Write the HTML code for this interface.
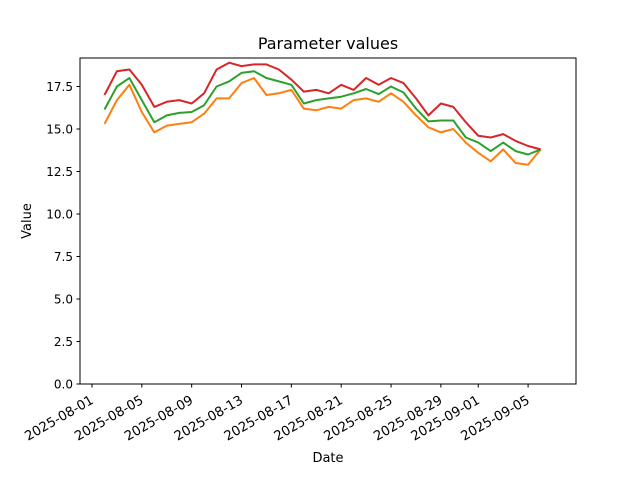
<!DOCTYPE html>
<html><head><meta charset="utf-8"><style>
body{margin:0;background:#fff;}
svg{display:block;font-family:"DejaVu Sans","Liberation Sans",sans-serif;}
</style></head><body>
<svg id="s" width="640" height="480" xmlns="http://www.w3.org/2000/svg">
<rect width="640" height="480" fill="#fff"/>
<text x="328" y="49" font-size="16" text-anchor="middle" fill="#000">Parameter values</text>
<text x="328" y="462" font-size="13" text-anchor="middle">Date</text>
<text transform="translate(31,221) rotate(-90)" font-size="13" text-anchor="middle">Value</text>
<g id="g"></g>
<rect x="80" y="58" width="496" height="326" fill="none" stroke="#000" stroke-width="1"/>
</svg>
<script>
const g=document.getElementById('g');
const X=d=>92+d*12.46, Y=v=>384-v*17;
let h='';
for(let i=0;i<=7;i++){const v=i*2.5,y=Y(v);h+=`<line x1="76.5" x2="80" y1="${y}" y2="${y}" stroke="#000"/><text x="73" y="${y+4.5}" font-size="12" text-anchor="end">${v.toFixed(1)}</text>`;}
const t=[[0,'2025-08-01'],[4,'2025-08-05'],[8,'2025-08-09'],[12,'2025-08-13'],[16,'2025-08-17'],[20,'2025-08-21'],[24,'2025-08-25'],[28,'2025-08-29'],[31,'2025-09-01'],[35,'2025-09-05']];
for(const [d,l] of t){const x=X(d);h+=`<line x1="${x}" x2="${x}" y1="384" y2="387.5" stroke="#000"/><text transform="translate(${x-2},${395}) rotate(-30)" font-size="13.2" text-anchor="end" dominant-baseline="hanging">${l}</text>`;}
const R=[17.0,18.4,18.5,17.6,16.3,16.6,16.7,16.5,17.1,18.5,18.9,18.7,18.8,18.8,18.5,17.9,17.2,17.3,17.1,17.6,17.3,18.0,17.6,18.0,17.7,16.8,15.8,16.5,16.3,15.4,14.6,14.5,14.7,14.3,14.0,13.8];
const O=[15.3,16.7,17.6,16.0,14.8,15.2,15.3,15.4,15.9,16.8,16.8,17.7,18.0,17.0,17.1,17.3,16.2,16.1,16.3,16.2,16.7,16.8,16.6,17.1,16.6,15.8,15.1,14.8,15.0,14.2,13.6,13.1,13.8,13.0,12.9,13.8];
const G=[16.15,17.5,18.0,16.7,15.4,15.8,15.95,16.0,16.4,17.5,17.8,18.3,18.4,18.0,17.8,17.6,16.5,16.7,16.8,16.9,17.1,17.35,17.05,17.5,17.15,16.2,15.45,15.5,15.5,14.5,14.2,13.7,14.2,13.7,13.5,13.8];
const line=(a,c)=>`<polyline fill="none" stroke="${c}" stroke-width="2" stroke-linejoin="round" points="${a.map((v,i)=>X(i+1).toFixed(1)+','+Y(v).toFixed(1)).join(' ')}"/>`;
h+=line(O,'#ff7f0e')+line(G,'#2ca02c')+line(R,'#d62728');
g.innerHTML=h;
</script>
</body></html>
